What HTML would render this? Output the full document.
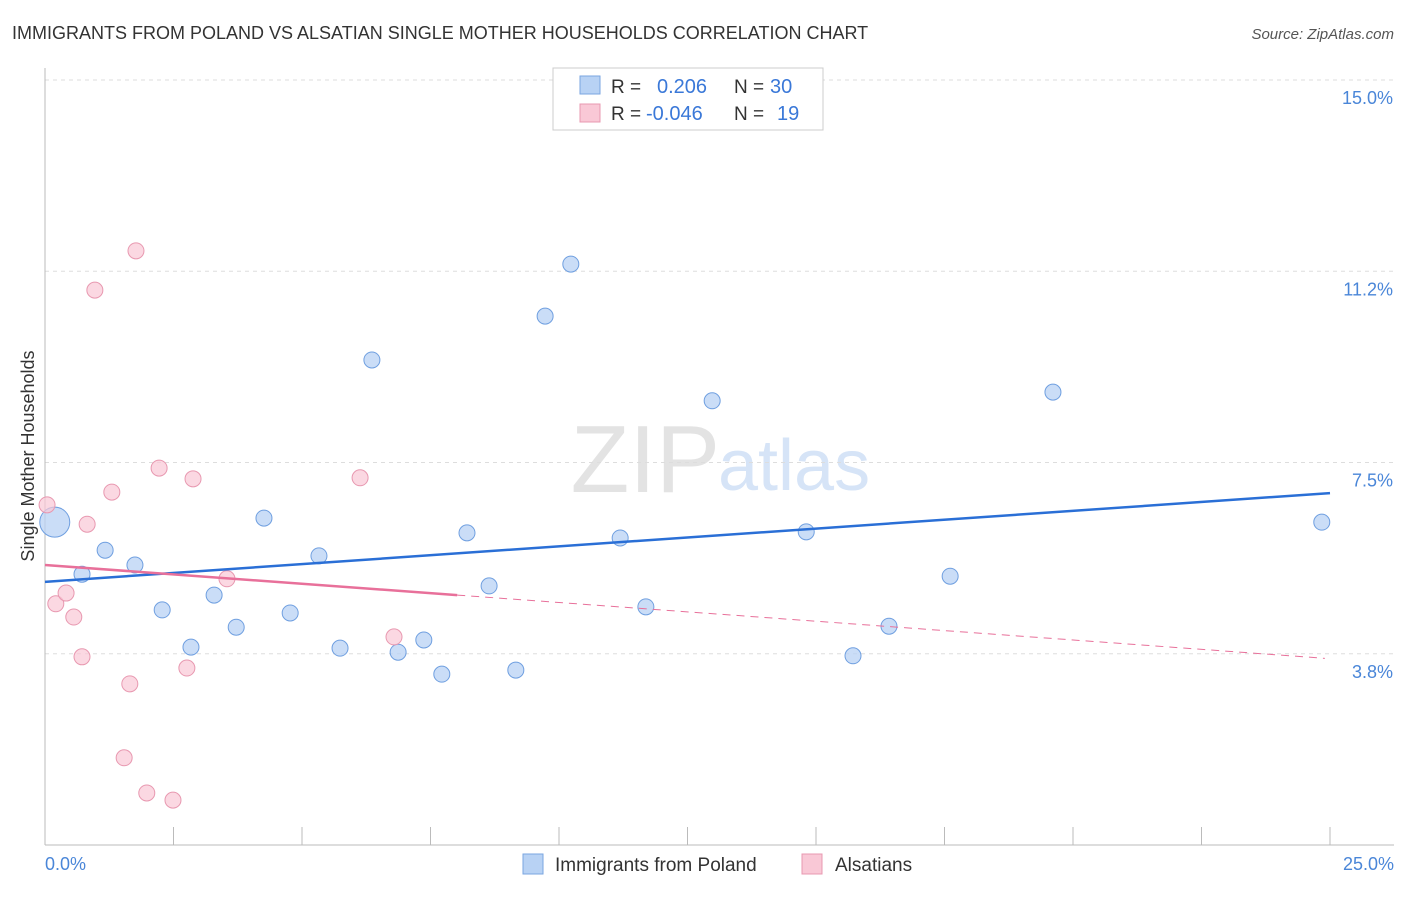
<!DOCTYPE html>
<html><head><meta charset="utf-8"><style>
body{margin:0;background:#fff;font-family:"Liberation Sans",sans-serif;}
svg text{font-family:"Liberation Sans",sans-serif;}
</style></head><body>
<svg width="1406" height="892" xmlns="http://www.w3.org/2000/svg">
<text x="12" y="39" font-size="18" fill="#333">IMMIGRANTS FROM POLAND VS ALSATIAN SINGLE MOTHER HOUSEHOLDS CORRELATION CHART</text>
<text x="1394" y="39" font-size="15" fill="#555" text-anchor="end" font-style="italic">Source: ZipAtlas.com</text>
<text x="720" y="492" font-size="96" fill="#e3e3e3" text-anchor="end" font-family="Liberation Serif">ZIP</text>
<text x="718" y="490" font-size="72" fill="#d6e4f7">atlas</text>
<g id="grid"></g>
<g id="axes"></g>
<g id="marks"></g>
<text transform="translate(34,456) rotate(-90)" font-size="18" fill="#333" text-anchor="middle">Single Mother Households</text>
<text x="45" y="870" font-size="18" fill="#4a86d8">0.0%</text>
<text x="1394" y="870" font-size="18" fill="#4a86d8" text-anchor="end">25.0%</text>
<g>
<rect x="553" y="68" width="270" height="62" fill="#fff" stroke="#ccc"/>
<rect x="580" y="76" width="20" height="18" fill="#b8d2f4" stroke="#7aa6e0"/>
<text x="611" y="93" font-size="19" fill="#333">R =</text><text x="657" y="93" font-size="20" fill="#3a78d8">0.206</text>
<text x="734" y="93" font-size="19" fill="#333">N =</text><text x="770" y="93" font-size="20" fill="#3a78d8">30</text>
<rect x="580" y="104" width="20" height="18" fill="#f9c8d6" stroke="#e898b0"/>
<text x="611" y="120" font-size="19" fill="#333">R =</text><text x="646" y="120" font-size="20" fill="#3a78d8">-0.046</text>
<text x="734" y="120" font-size="19" fill="#333">N =</text><text x="777" y="120" font-size="20" fill="#3a78d8">19</text>
</g>
<g>
<rect x="523" y="854" width="20" height="20" fill="#b8d2f4" stroke="#7aa6e0"/>
<text x="555" y="871" font-size="19" fill="#333">Immigrants from Poland</text>
<rect x="802" y="854" width="20" height="20" fill="#f9c8d6" stroke="#e898b0"/>
<text x="835" y="871" font-size="19" fill="#333">Alsatians</text>
</g>
</svg>
<script>
const yTicks=[3.75,7.5,11.25,15];
const yTickLabels=["3.8%","7.5%","11.2%","15.0%"];
const xTicks=[0,2.5,5,7.5,10,12.5,15,17.5,20,22.5,25];
const polandX=[0.19,0.72,1.17,1.75,2.28,2.84,3.29,3.72,4.26,4.77,5.33,5.74,6.36,6.87,7.37,7.72,8.21,8.64,9.16,9.73,10.23,11.19,11.69,12.98,14.81,15.72,16.42,17.61,19.61,24.84];
const polandY=[6.33,5.31,5.78,5.49,4.61,3.88,4.90,4.27,6.41,4.55,5.67,3.86,9.51,3.78,4.02,3.35,6.12,5.08,3.43,10.37,11.39,6.02,4.67,8.71,6.14,3.71,4.29,5.27,8.88,6.33];
const alsX=[0.04,0.21,0.41,0.56,0.72,0.82,0.97,1.30,1.54,1.65,1.77,1.98,2.22,2.49,2.76,2.88,3.54,6.13,6.79];
const alsY=[6.67,4.73,4.94,4.47,3.69,6.29,10.88,6.92,1.71,3.16,11.65,1.02,7.39,0.88,3.47,7.18,5.22,7.20,4.08];
const polandTrend=[5.16,6.90];
const alsTrend=[5.49,3.66];
const alsSolidEnd=8.02;
const NS="http://www.w3.org/2000/svg";
const X=v=>45+v*51.4, Y=v=>845-v*51;
function mk(t,a,p){const e=document.createElementNS(NS,t);for(const k in a)e.setAttribute(k,a[k]);p.appendChild(e);return e;}
const grid=document.getElementById('grid'),axes=document.getElementById('axes'),marks=document.getElementById('marks');
yTicks.forEach((t,i)=>{
 const l=mk('line',{x1:45,x2:1394,y1:Y(t),y2:Y(t),stroke:'#ddd','stroke-dasharray':'4,4'},grid);
 
 
 const tx=mk('text',{x:1393,y:Y(t)+24,'font-size':18,fill:'#4a86d8','text-anchor':'end'},axes);
 tx.textContent=yTickLabels[i];
 
 
});
mk('line',{x1:45,x2:1394,y1:80,y2:80,stroke:'#ddd','stroke-dasharray':'4,4'},grid);
mk('line',{x1:45,x2:45,y1:68,y2:845,stroke:'#bbb'},axes);
mk('line',{x1:45,x2:1394,y1:845,y2:845,stroke:'#bbb'},axes);
xTicks.forEach(t=>{
 const l=mk('line',{x1:X(t),x2:X(t),y1:827,y2:845,stroke:'#bbb'},axes);
 
 
});
polandX.forEach((x,i)=>{
 const c=mk('circle',{cx:X(x),cy:Y(polandY[i]),r:i===0?15:8,fill:'#b8d2f4','fill-opacity':0.75,stroke:'#6f9fe0','stroke-width':1},marks);
 
 
});
alsX.forEach((x,i)=>{
 const c=mk('circle',{cx:X(x),cy:Y(alsY[i]),r:8,fill:'#f9c8d6','fill-opacity':0.7,stroke:'#e898b0','stroke-width':1},marks);
 
 
});
const pl=mk('line',{x1:X(0),y1:Y(polandTrend[0]),x2:X(25),y2:Y(polandTrend[1]),stroke:'#2a6fd6','stroke-width':2.5},marks);


const ay=x=>alsTrend[0]+(alsTrend[1]-alsTrend[0])*x/24.9;
const as=mk('line',{x1:X(0),y1:Y(ay(0)),x2:X(alsSolidEnd),y2:Y(ay(alsSolidEnd)),stroke:'#e8709a','stroke-width':2.5},marks);


const ad=mk('line',{x1:X(alsSolidEnd),y1:Y(ay(alsSolidEnd)),x2:X(24.9),y2:Y(ay(24.9)),stroke:'#e8709a','stroke-width':1,'stroke-dasharray':'8,6'},marks);


</script>
</body></html>
